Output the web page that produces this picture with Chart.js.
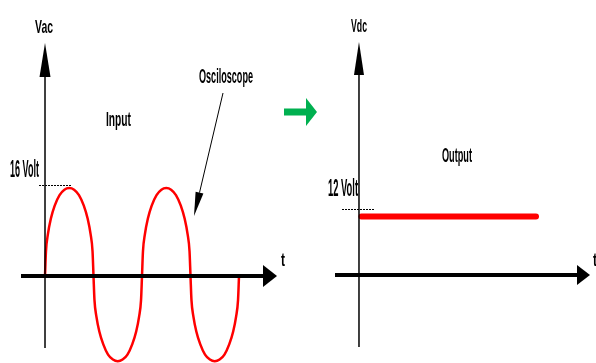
<!DOCTYPE html>
<html lang="en">
<head>
  <meta charset="UTF-8">
  <title>AC input / DC output</title>
  <script src="https://cdn.jsdelivr.net/npm/chart.js"></script>
  <style>
    body { margin: 0; background: #fff; }
    canvas { display: block; }
  </style>
</head>
<body>
  <canvas id="waveChart" width="596" height="363"></canvas>
  <script>
    // input: AC wave (ms, volt)
    const inTime = [
      0, 0.2, 0.6, 1.2, 2, 3, 4, 5, 6, 7, 8, 8.8, 9.4, 9.8,
      10, 10.2, 10.6, 11.2, 12, 13, 14, 15, 16, 17, 18, 18.8, 19.4, 19.8,
      20, 20.2, 20.6, 21.2, 22, 23, 24, 25, 26, 27, 28, 28.8, 29.4, 29.8,
      30, 30.2, 30.6, 31.2, 32, 33, 34, 35, 36, 37, 38, 38.8, 39.4, 39.8,
      40
    ];
    const inVolt = [
      0, 4.5, 7.6, 10.4, 12.8, 14.7, 15.7, 16, 15.7, 14.7, 12.8, 10.4, 7.6, 4.5,
      0, -4.4, -7.4, -10.1, -12.4, -14.3, -15.2, -15.5, -15.2, -14.3, -12.4, -10.1, -7.4, -4.4,
      0, 4.5, 7.6, 10.4, 12.8, 14.7, 15.7, 16, 15.7, 14.7, 12.8, 10.4, 7.6, 4.5,
      0, -4.4, -7.4, -10.1, -12.4, -14.3, -15.2, -15.5, -15.2, -14.3, -12.4, -10.1, -7.4, -4.4,
      0
    ];
    const inPeak = 16;

    // output: flat DC level
    const outTime = [0.5, 36.5];
    const outVolt = [12, 12];
    const outLevel = 12;

    const toPoints = (xs, ys) => xs.map((x, i) => ({ x: x, y: ys[i] }));

    function label(ctx, str, x, base, size, w) {
      ctx.save();
      ctx.font = 'bold ' + size + 'px "Liberation Sans", Arial, sans-serif';
      const m = ctx.measureText(str).width;
      ctx.translate(x, base);
      ctx.scale(w / m, 1);
      ctx.fillStyle = '#000';
      ctx.fillText(str, 0, 0);
      ctx.restore();
    }

    function tri(ctx, a, b, c) {
      ctx.beginPath();
      ctx.moveTo(a[0], a[1]);
      ctx.lineTo(b[0], b[1]);
      ctx.lineTo(c[0], c[1]);
      ctx.closePath();
      ctx.fill();
    }

    // axes, arrows and texts drawn on top of the data
    const sketch = {
      id: 'sketch',
      afterDatasetsDraw(chart) {
        const ctx = chart.ctx;
        const s = chart.scales;
        ctx.save();
        ctx.fillStyle = '#000';
        ctx.strokeStyle = '#000';

        // left axes
        const lx = s.x.getPixelForValue(0);
        const ly = s.y.getPixelForValue(0);
        ctx.lineWidth = 1.5;
        ctx.beginPath(); ctx.moveTo(lx, 348); ctx.lineTo(lx, 70); ctx.stroke();
        tri(ctx, [lx, 43], [lx - 5.5, 77], [lx + 5.5, 77]);
        ctx.lineWidth = 4;
        ctx.beginPath(); ctx.moveTo(21, ly); ctx.lineTo(265, ly); ctx.stroke();
        tri(ctx, [277, ly], [263, ly - 11], [263, ly + 11]);

        // right axes
        const rx = s.x2.getPixelForValue(0);
        const ry = s.y2.getPixelForValue(0);
        ctx.lineWidth = 1.5;
        ctx.beginPath(); ctx.moveTo(rx, 347); ctx.lineTo(rx, 70); ctx.stroke();
        tri(ctx, [rx, 42], [rx - 5, 75], [rx + 5, 75]);
        ctx.lineWidth = 4;
        ctx.beginPath(); ctx.moveTo(335, ry); ctx.lineTo(580, ry); ctx.stroke();
        tri(ctx, [590, ry], [577, ry - 10], [577, ry + 10]);

        // dashed level marks
        ctx.lineWidth = 1;
        ctx.setLineDash([2, 1]);
        let py = Math.round(s.y.getPixelForValue(inPeak) - 3) + 0.5;
        ctx.beginPath(); ctx.moveTo(39, py); ctx.lineTo(71, py); ctx.stroke();
        py = Math.round(s.y2.getPixelForValue(outLevel) - 8) + 0.5;
        ctx.beginPath(); ctx.moveTo(342, py); ctx.lineTo(374, py); ctx.stroke();
        ctx.setLineDash([]);

        // callout arrow to the scope trace
        const tip = [194, 216], from = [223, 93];
        const dx = tip[0] - from[0], dy = tip[1] - from[1];
        const len = Math.hypot(dx, dy), ux = dx / len, uy = dy / len;
        const bx = tip[0] - ux * 24, by = tip[1] - uy * 24;
        ctx.lineWidth = 1;
        ctx.beginPath(); ctx.moveTo(from[0], from[1]); ctx.lineTo(bx, by); ctx.stroke();
        tri(ctx, tip, [bx - uy * 4, by + ux * 4], [bx + uy * 4, by - ux * 4]);

        // green arrow between panels
        ctx.fillStyle = '#00b050';
        ctx.fillRect(284, 108.5, 23, 7);
        tri(ctx, [317, 112], [306, 98], [306, 126]);

        // texts
        label(ctx, 'Vac', 35, 33, 19, 18);
        label(ctx, 'Input', 106, 126, 20, 25);
        label(ctx, '16 Volt', 10, 177, 23, 29);
        label(ctx, 'Osciloscope', 199, 83, 20, 54);
        label(ctx, 't', 281, 266, 19, 4);
        label(ctx, 'Vdc', 351, 32, 19, 16);
        label(ctx, 'Output', 442, 162, 21, 30);
        label(ctx, '12 Volt', 328, 196, 23, 30);
        label(ctx, 't', 593, 266, 19, 4);
        ctx.restore();
      }
    };

    const ctx = document.getElementById('waveChart').getContext('2d');
    new Chart(ctx, {
      type: 'line',
      data: {
        datasets: [{
          label: 'Vac',
          data: toPoints(inTime, inVolt),
          xAxisID: 'x',
          yAxisID: 'y',
          borderColor: '#ff0000',
          borderWidth: 2.5,
          pointRadius: 0,
          cubicInterpolationMode: 'monotone',
          fill: false
        }, {
          label: 'Vdc',
          data: toPoints(outTime, outVolt),
          xAxisID: 'x2',
          yAxisID: 'y2',
          borderColor: '#ff0000',
          borderWidth: 6,
          borderCapStyle: 'round',
          pointRadius: 0,
          fill: false
        }]
      },
      options: {
        responsive: false,
        animation: false,
        devicePixelRatio: 1,
        layout: { padding: 0 },
        plugins: { legend: { display: false }, tooltip: { enabled: false } },
        scales: {
          x: { type: 'linear', display: false, min: -9.28, max: 113.61 },
          y: { type: 'linear', display: false, min: -15.82, max: 50.18 },
          x2: { type: 'linear', display: false, min: -74.02, max: 48.87 },
          y2: { type: 'linear', display: false, min: -18.05, max: 56.41 }
        }
      },
      plugins: [sketch]
    });
  </script>
</body>
</html>
